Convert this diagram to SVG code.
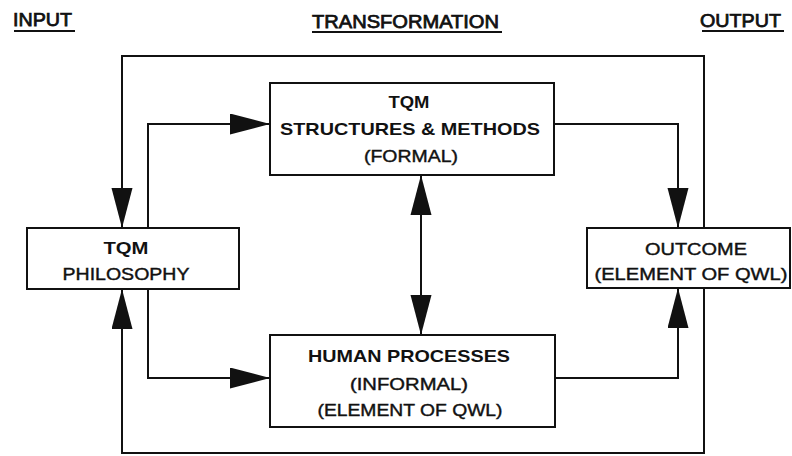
<svg xmlns="http://www.w3.org/2000/svg" width="792" height="456" viewBox="0 0 792 456">
  <style>
    .bg { fill: #ffffff; }
    .box { fill: #ffffff; stroke: #111; stroke-width: 2; }
    .wire { fill: none; stroke: #111; stroke-width: 2; }
    .head { font-family: "Liberation Sans", Arial, sans-serif; font-size: 18px; fill: #111; stroke: #111; stroke-width: 0.75; }
    .uline { stroke: #111; stroke-width: 2; }
    .t { font-family: "Liberation Sans", Arial, sans-serif; font-size: 17px; fill: #111; text-anchor: middle; }
    .b { font-weight: bold; }
    .m { stroke: #111; stroke-width: 0.4; }
  </style>
  <defs>
    <marker id="arrow" markerUnits="userSpaceOnUse" markerWidth="42" markerHeight="22" refX="40" refY="10.5" orient="auto" viewBox="0 0 42 22">
      <path d="M0,0 L40,10.5 L0,21 Z" fill="#111"/>
    </marker>
    <marker id="arrowStart" markerUnits="userSpaceOnUse" markerWidth="42" markerHeight="22" refX="0" refY="10.5" orient="auto" viewBox="0 0 42 22">
      <path d="M40,0 L0,10.5 L40,21 Z" fill="#111"/>
    </marker>
  </defs>

  <rect class="bg" x="0" y="0" width="792" height="456"/>

  <!-- column headings -->
  <g id="headings">
    <text class="head" x="13" y="26" textLength="59" lengthAdjust="spacingAndGlyphs">INPUT</text>
    <line class="uline" x1="14" y1="31" x2="75" y2="31"/>
    <text class="head" x="312" y="28" textLength="187" lengthAdjust="spacingAndGlyphs">TRANSFORMATION</text>
    <line class="uline" x1="312" y1="32" x2="502" y2="32"/>
    <text class="head" x="700" y="27" textLength="81" lengthAdjust="spacingAndGlyphs">OUTPUT</text>
    <line class="uline" x1="702" y1="31" x2="784" y2="31"/>
  </g>

  <!-- connectors -->
  <g id="connectors">
    <!-- outer feedback loop -->
    <path class="wire" d="M704,290 L704,56 L122,56 L122,228" marker-end="url(#arrow)"/>
    <path class="wire" d="M704,288 L704,453 L122,453 L122,289" marker-end="url(#arrow)"/>
    <!-- philosophy to transformation boxes -->
    <path class="wire" d="M148,228 L148,124 L270,124" marker-end="url(#arrow)"/>
    <path class="wire" d="M148,289 L148,378 L270,378" marker-end="url(#arrow)"/>
    <!-- formal and informal interaction -->
    <line class="wire" x1="421" y1="175" x2="421" y2="335" marker-start="url(#arrowStart)" marker-end="url(#arrow)"/>
    <!-- transformation boxes to outcome -->
    <path class="wire" d="M554,124 L678,124 L678,228" marker-end="url(#arrow)"/>
    <path class="wire" d="M555,378 L678,378 L678,288" marker-end="url(#arrow)"/>
  </g>

  <g id="philosophy">
    <rect class="box" x="27" y="228" width="212" height="61"/>
    <text class="t b" x="126" y="254" textLength="45" lengthAdjust="spacingAndGlyphs">TQM</text>
    <text class="t m" x="126" y="280" textLength="127" lengthAdjust="spacingAndGlyphs">PHILOSOPHY</text>
  </g>

  <g id="structures">
    <rect class="box" x="270" y="83" width="284" height="92"/>
    <text class="t b" x="409" y="108" textLength="41" lengthAdjust="spacingAndGlyphs">TQM</text>
    <text class="t b" x="410" y="135" textLength="260" lengthAdjust="spacingAndGlyphs">STRUCTURES &amp; METHODS</text>
    <text class="t m" x="411" y="162" textLength="94" lengthAdjust="spacingAndGlyphs">(FORMAL)</text>
  </g>

  <g id="human">
    <rect class="box" x="270" y="335" width="285" height="92"/>
    <text class="t b" x="409" y="362" textLength="202" lengthAdjust="spacingAndGlyphs">HUMAN PROCESSES</text>
    <text class="t m" x="409" y="390" textLength="118" lengthAdjust="spacingAndGlyphs">(INFORMAL)</text>
    <text class="t m" x="410" y="416" textLength="185" lengthAdjust="spacingAndGlyphs">(ELEMENT OF QWL)</text>
  </g>

  <g id="outcome">
    <rect class="box" x="587" y="228" width="203" height="60"/>
    <text class="t m" x="696" y="255" textLength="102" lengthAdjust="spacingAndGlyphs">OUTCOME</text>
    <text class="t m" x="691" y="280" textLength="193" lengthAdjust="spacingAndGlyphs">(ELEMENT OF QWL)</text>
  </g>
</svg>
